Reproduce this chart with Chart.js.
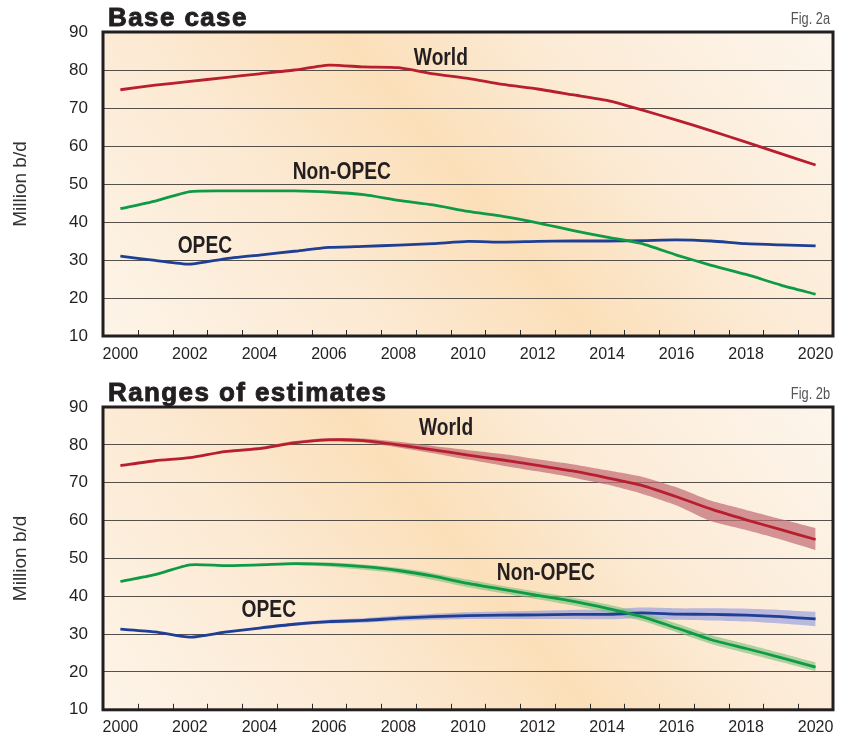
<!DOCTYPE html>
<html><head><meta charset="utf-8">
<script src="https://cdn.jsdelivr.net/npm/chart.js@4.4.1/dist/chart.umd.min.js"></script>
<style>
html,body{margin:0;padding:0;background:#fff;}
#wrap{position:relative;width:845px;height:735px;overflow:hidden;}
canvas{position:absolute;left:0;}
#c1{top:0;}
#c2{top:368px;}
</style></head><body>
<div id="wrap">
<canvas id="c1" width="845" height="368"></canvas>
<canvas id="c2" width="845" height="367"></canvas>
</div>
<script>
// ---------- data ----------
const years = ['2000','2001','2002','2003','2004','2005','2006','2007','2008','2009','2010',
               '2011','2012','2013','2014','2015','2016','2017','2018','2019','2020'];
const xTickLabels = ['2000','2002','2004','2006','2008','2010','2012','2014','2016','2018','2020'];
const yTicks = [10,20,30,40,50,60,70,80,90];

// Fig. 2a  Base case (million b/d)
const baseWorld  = [74.8,76.0,77.0,78.0,79.0,80.0,81.3,80.8,80.6,79.0,77.8,76.2,75.0,73.5,72.0,69.5,66.8,64.0,61.0,58.0,55.0];
const baseNonOpec= [43.5,45.5,48.0,48.2,48.2,48.2,47.9,47.2,45.7,44.5,42.8,41.5,39.8,37.8,36.0,34.3,31.3,28.6,26.2,23.4,21.0];
const baseOpec   = [31.0,29.9,28.9,30.3,31.3,32.3,33.3,33.6,33.9,34.3,34.9,34.7,34.9,35.0,35.0,35.1,35.3,35.0,34.3,34.0,33.7];

// Fig. 2b  Ranges of estimates (million b/d)
const rangeWorld     = [74.5,75.8,76.6,78.2,79.0,80.5,81.3,81.1,80.0,78.7,77.3,76.0,74.6,73.1,71.3,69.3,66.3,63.0,60.2,57.6,55.0];
const rangeWorldHigh = [74.5,75.8,76.6,78.5,79.4,81.0,81.8,81.7,80.8,79.7,78.6,77.6,76.2,74.9,73.3,71.6,68.8,65.2,62.8,60.4,58.0];
const rangeWorldLow  = [74.5,75.8,76.6,78.0,78.8,80.2,81.0,80.6,79.3,77.8,76.1,74.5,73.0,71.4,69.5,67.1,64.0,59.8,57.5,55.0,52.2];

const rangeNonOpec     = [43.9,45.7,48.3,48.1,48.3,48.6,48.4,47.8,46.8,45.3,43.4,41.8,40.2,38.7,36.8,34.6,31.6,28.5,26.2,23.8,21.3];
const rangeNonOpecHigh = [43.9,45.7,48.3,48.1,48.6,49.0,48.9,48.4,47.5,46.1,44.4,42.7,41.2,39.7,37.9,35.7,32.8,29.7,27.4,25.0,22.5];
const rangeNonOpecLow  = [43.9,45.7,48.3,48.1,48.1,48.2,47.8,47.0,46.0,44.3,42.4,40.8,39.2,37.6,35.7,33.5,30.5,27.4,25.0,22.6,20.2];

const rangeOpec     = [31.3,30.6,29.2,30.5,31.6,32.6,33.3,33.6,34.2,34.6,34.9,35.0,35.1,35.2,35.2,35.6,35.3,35.2,35.0,34.6,34.0];
const rangeOpecHigh = [31.3,30.6,29.2,30.5,31.9,33.0,33.8,34.2,34.9,35.4,35.8,36.0,36.2,36.4,36.5,37.0,36.8,36.8,36.7,36.4,35.9];
const rangeOpecLow  = [31.3,30.6,29.2,30.5,31.3,32.2,32.8,33.0,33.5,33.8,34.0,34.0,34.0,34.0,33.9,34.2,33.8,33.6,33.3,32.8,32.1];

// ---------- styles ----------
const RED = '#b81f2e', GREEN = '#0f9a48', BLUE = '#1e3f94';
const RED_BAND = 'rgba(196,110,118,0.72)', GREEN_BAND = 'rgba(120,192,120,0.6)', BLUE_BAND = 'rgba(140,148,222,0.6)';
const INK = '#231f20';
Chart.defaults.font.family = '"Liberation Sans", Arial, Helvetica, sans-serif';
Chart.defaults.color = INK;

function condensedText(ctx, text, x, y, font, color, align, sx) {
  ctx.save();
  ctx.font = font;
  ctx.fillStyle = color;
  ctx.textAlign = align;
  ctx.textBaseline = 'alphabetic';
  ctx.translate(x, y);
  ctx.scale(sx, 1);
  ctx.fillText(text, 0, 0);
  ctx.restore();
}

const decor = {
  id: 'decor',
  beforeDraw(chart, args, o) {
    const {ctx, chartArea: a} = chart;
    const w = a.right - a.left, h = a.bottom - a.top;
    ctx.save();
    const g = ctx.createLinearGradient(a.left, a.bottom, a.left + w * 0.80, a.bottom - h * 1.58);
    g.addColorStop(0, '#fdf4e8');
    g.addColorStop(0.3, '#fce9d2');
    g.addColorStop(0.5, '#fbdfb9');
    g.addColorStop(0.7, '#fcebd6');
    g.addColorStop(1, '#fdf5ec');
    ctx.fillStyle = g;
    ctx.fillRect(a.left, a.top, w, h);
    ctx.restore();
  },
  afterDraw(chart, args, o) {
    const {ctx, chartArea: a, scales} = chart;
    const xs = scales.x, ys = scales.y;
    ctx.save();
    // inward tick marks at the year boundaries
    ctx.strokeStyle = '#2a2a2a';
    ctx.lineWidth = 1;
    for (let i = 0; i < years.length - 1; i++) {
      const x = Math.round((xs.getPixelForValue(i) + xs.getPixelForValue(i + 1)) / 2) + 0.5;
      ctx.beginPath();
      ctx.moveTo(x, a.bottom);
      ctx.lineTo(x, a.bottom - 6);
      ctx.stroke();
    }
    // frame
    ctx.strokeStyle = '#231f20';
    ctx.lineWidth = 3;
    ctx.strokeRect(a.left, a.top, a.right - a.left, a.bottom - a.top);
    ctx.restore();

    // series labels at data coordinates
    o.labels.forEach(l => {
      condensedText(ctx, l.text, xs.getPixelForValue(l.x), ys.getPixelForValue(l.y) + 8,
        'bold 24px "Liberation Sans", Arial, sans-serif', INK, 'center', 0.8);
    });

    // title
    ctx.save();
    ctx.font = 'bold 26px "Liberation Sans", Arial, sans-serif';
    try { ctx.letterSpacing = '1.4px'; } catch (e) {}
    ctx.fillStyle = INK;
    ctx.strokeStyle = INK;
    ctx.lineWidth = 0.9;
    ctx.textAlign = 'left';
    ctx.textBaseline = 'alphabetic';
    ctx.fillText(o.title, 108, o.titleY);
    ctx.strokeText(o.title, 108, o.titleY);
    ctx.restore();

    // figure number
    condensedText(ctx, o.fig, 830, o.figY, '16px "Liberation Sans", Arial, sans-serif', '#555', 'right', 0.8);
  }
};

function lineDs(data, color) {
  return {data, borderColor: color, borderWidth: 2.8, pointRadius: 0, tension: 0.2, fill: false, order: 0};
}
function bandDs(data, color, fill) {
  return {data, borderColor: 'rgba(0,0,0,0)', borderWidth: 0, backgroundColor: color, pointRadius: 0,
          tension: 0.2, fill, order: 1};
}

function makeChart(id, datasets, cfg) {
  return new Chart(document.getElementById(id), {
    type: 'line',
    data: {labels: years, datasets},
    options: {
      responsive: false,
      animation: false,
      layout: {padding: {top: cfg.padTop, right: 12, left: 0, bottom: 0}},
      plugins: {
        legend: {display: false},
        tooltip: {enabled: false},
        decor: cfg.decor
      },
      scales: {
        x: {
          type: 'category',
          offset: true,
          grid: {display: false},
          border: {display: false},
          ticks: {
            autoSkip: false, maxRotation: 0, minRotation: 0,
            font: {size: 16}, color: INK, padding: cfg.xPad,
            callback: (v, i) => xTickLabels.includes(years[i]) ? years[i] : ''
          },
          afterFit: s => { s.height = cfg.xHeight; }
        },
        y: {
          min: 10, max: 90,
          afterBuildTicks: s => { s.ticks = yTicks.map(v => ({value: v})); },
          grid: {color: '#55504a', lineWidth: 1, drawTicks: false},
          border: {display: false},
          ticks: {font: {size: 17}, color: INK, padding: 15},
          title: {display: true, text: 'Million b/d', font: {size: 19}, color: '#333', padding: {top: 9, bottom: 0}},
          afterFit: s => { s.width = 103; }
        }
      }
    },
    plugins: [decor]
  });
}

makeChart('c1', [
  lineDs(baseWorld, RED),
  lineDs(baseNonOpec, GREEN),
  lineDs(baseOpec, BLUE)
], {
  padTop: 32, xHeight: 32, xPad: 1,
  decor: {
    title: 'Base case', titleY: 26, fig: 'Fig. 2a', figY: 24,
    labels: [
      {text: 'World', x: 9.22, y: 83.4},
      {text: 'Non-OPEC', x: 6.37, y: 53.4},
      {text: 'OPEC', x: 2.43, y: 34.0}
    ]
  }
});

makeChart('c2', [
  lineDs(rangeWorld, RED),
  lineDs(rangeNonOpec, GREEN),
  lineDs(rangeOpec, BLUE),
  bandDs(rangeWorldHigh, RED_BAND, '+1'),
  bandDs(rangeWorldLow, RED_BAND, false),
  bandDs(rangeNonOpecHigh, GREEN_BAND, '+1'),
  bandDs(rangeNonOpecLow, GREEN_BAND, false),
  bandDs(rangeOpecHigh, BLUE_BAND, '+1'),
  bandDs(rangeOpecLow, BLUE_BAND, false)
], {
  padTop: 39, xHeight: 23, xPad: 0,
  decor: {
    title: 'Ranges of estimates', titleY: 33, fig: 'Fig. 2b', figY: 31,
    labels: [
      {text: 'World', x: 9.37, y: 84.7},
      {text: 'Non-OPEC', x: 12.24, y: 46.5},
      {text: 'OPEC', x: 4.27, y: 36.6}
    ]
  }
});
</script>
</body></html>
